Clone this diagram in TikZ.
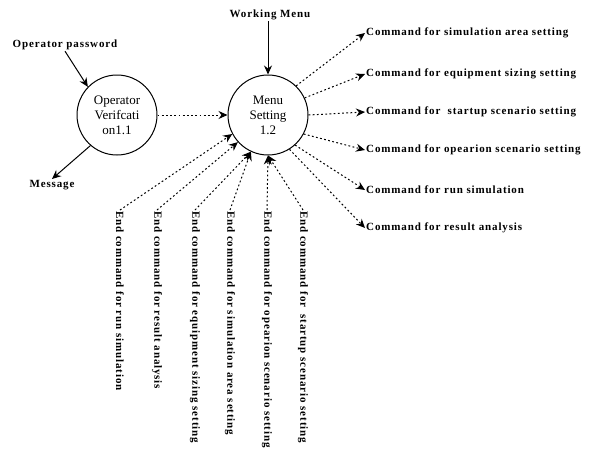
\documentclass[tikz,border=0pt]{standalone}
\usepackage{fontspec}
\setmainfont{Liberation Serif}
\newfontfamily\lblfont[LetterSpace=8]{Liberation Serif}
\usetikzlibrary{arrows.meta,positioning}

\begin{document}
\begin{tikzpicture}[x=1pt,y=-1pt,
    proc/.style={circle,draw,line width=1pt,minimum size=80pt,inner sep=0pt,
      align=center,font=\fontsize{13}{15}\selectfont},
    lbl/.style={font=\fontsize{11}{13}\lblfont\bfseries,inner sep=1pt},
    flow/.style={-{Stealth[length=9pt,width=8pt,inset=3pt]},line width=1pt},
    cmd/.style={flow,dash pattern=on 1.8pt off 2.4pt}]
    \useasboundingbox (0,0) rectangle (593,459);

    % processes
    \node[proc] (verif) at (117,115) {Operator\\Verifcati\\on1.1};
    \node[proc] (menu) at (268,115) {Menu\\Setting\\1.2};

    % external flows
    \node[lbl] (pwd) at (65,45) {Operator password};
    \node[lbl] (msg) at (52,185) {Message};
    \node[lbl] (work) at (270,15) {Working Menu};
    \draw[flow] (pwd.south) -- (verif.136);
    \draw[flow] (verif.229) -- (msg.north);
    \draw[flow] (work.south -| menu.north) -- (menu.north);
    \draw[cmd] (verif.east) -- (menu.west);

    % commands out of the menu
    \foreach \y/\a/\t [count=\i] in {
        33/46/Command for simulation area setting,
        74/25/Command for equipment sizing setting,
        112/0/Command for \ startup scenario setting,
        150/-28/Command for opearion scenario setting,
        190/-48/Command for run simulation,
        228/-58/Command for result analysis}{
      \node[lbl,anchor=west] (cmd\i) at (365,\y) {\t};
      \draw[cmd] (menu.\a) -- (cmd\i.west);
    }

    % end commands back to the menu
    \foreach \x/\a/\t [count=\i] in {
        120/208/End command for run simulation,
        157/222/End command for result analysis,
        195/245/End command for equipment sizing setting,
        230/245/End command for simulation area setting,
        267/270/End command for opearion scenario setting,
        303/270/End command for \ startup scenario setting}{
      \node[lbl,rotate=-90,anchor=west] (end\i) at (\x,210) {\t};
      \draw[cmd] (end\i.west) -- (menu.\a);
    }
\end{tikzpicture}
\end{document}
